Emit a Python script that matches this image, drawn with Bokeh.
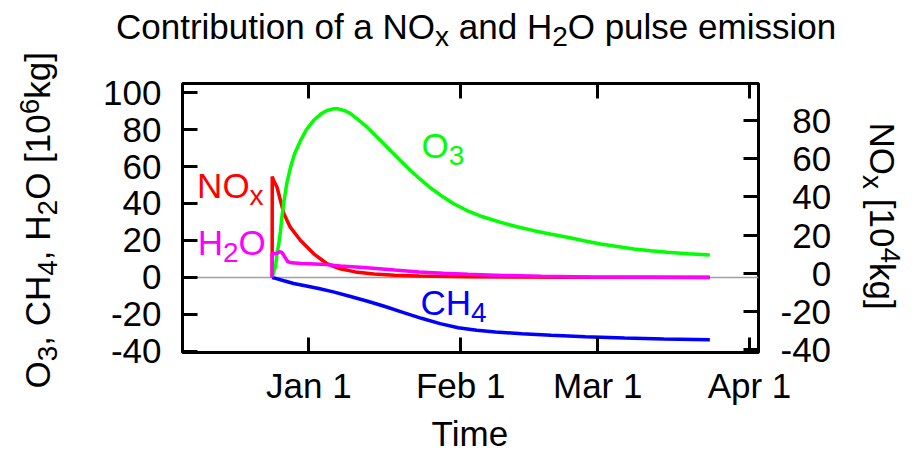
import math
import pandas as pd
from bokeh.plotting import figure
from bokeh.layouts import row, column
from bokeh.models import Range1d, LinearAxis, DatetimeAxis, FixedTicker, Label, Span
from bokeh.embed import file_html
from bokeh.resources import INLINE

# ---------------------------------------------------------------- data
pulse_time = pd.Timestamp("2006-12-24 12:00")   # time of the pulse emission

# O3 response [10^6 kg], days after the pulse
o3_day = [0, 0.3, 0.7, 1.0, 1.35, 1.7, 2.0, 2.4, 3.0, 3.7, 4.6, 5.8, 7.0, 8.5, 10.0,
          11.2, 12.5, 13.5, 15.0, 16.0, 17.5, 19.4, 21.0, 22.8, 24.5, 26.2, 28.2,
          30.3, 32.3, 34.4, 37.0, 39.8, 43.0, 46.7, 50.0, 53.5, 57.0, 60.3, 63.7,
          67.1, 70.5, 73.9, 77.3, 80.7, 85.0, 89.4]
o3_val = [0, 3, 6, 13, 18, 25, 33, 41, 51, 59, 67, 74, 80, 85, 88.5,
          90.3, 91.2, 91.2, 90.0, 88.6, 85.5, 81.3, 77.0, 72.3, 67.7, 63.3, 58.0,
          53.0, 48.5, 44.5, 40.0, 36.2, 32.8, 29.8, 27.4, 25.3, 23.4, 21.7, 19.8,
          18.1, 16.7, 15.4, 14.4, 13.6, 12.8, 12.1]

# NOx burden
nox_day = [0, 0.02, 0.3, 1.0, 1.7, 2.4, 3.7, 5.8, 8.5, 11.2, 13.9, 17.0, 20.8,
           25.0, 30.0, 40.0, 50.0, 60.0, 75.0, 89.4]
nox_val = [0, 54.6, 52.4, 48.8, 41.6, 34.4, 27.2, 20.0, 12.8, 7.4, 4.7, 3.0, 1.9,
           1.2, 0.8, 0.4, 0.2, 0.1, 0.05, 0.0]

# H2O [10^6 kg]
h2o_day = [0, 0.02, 1.0, 1.5, 2.0, 2.6, 3.2, 4.0, 6.0, 10.0, 14.0, 18.7, 25.0,
           30.0, 35.0, 40.0, 47.0, 55.0, 65.0, 75.0, 89.4]
h2o_val = [0, 13.0, 13.0, 14.0, 13.5, 11.0, 8.5, 7.9, 7.6, 7.2, 6.2, 5.4, 4.0,
           3.0, 2.3, 1.7, 1.1, 0.6, 0.3, 0.15, 0.05]

# CH4 [10^6 kg]
ch4_day = [0, 0.7, 2.4, 4.4, 7.0, 9.5, 12.5, 16.0, 19.5, 22.9, 26.7, 30.5, 34.3,
           38.0, 41.8, 45.6, 51.0, 57.0, 64.0, 72.0, 80.0, 89.4]
ch4_val = [0, -0.5, -1.8, -3.3, -4.6, -6.0, -7.8, -10.3, -12.9, -15.6, -18.9, -22.1,
           -25.0, -27.2, -28.6, -29.5, -30.5, -31.3, -32.1, -32.8, -33.3, -33.7]

tick_dates = ["2007-01-01", "2007-02-01", "2007-03-01", "2007-04-01"]
tick_labels = ["Jan 1", "Feb 1", "Mar 1", "Apr 1"]
left_ticks = [-40, -20, 0, 20, 40, 60, 80, 100]
right_ticks = [-40, -20, 0, 20, 40, 60, 80]
left_lim = (-40.6, 104.9)
right_lim = (-41.5, 99.4)

# ---------------------------------------------------------------- layout
W, H = 912, 455
LEFT_W = 75                 # strip holding the left axis title
RIGHT_W = 62                # strip holding the right axis title
TITLE_H = 73                # strip holding the title
TIME_H = 45                 # strip holding "Time"
FL, FR, FT, FB = 182, 758, 83, 352          # plot frame on the page
MID_W = W - LEFT_W - RIGHT_W
MAIN_H = H - TITLE_H - TIME_H
FONT = "Liberation Sans"
FS, SUB = 35, 28                            # text / sub-superscript sizes
DROP, RISE = 7, 11
BASE_FIX = 0.37                             # alphabetic baseline correction (em)


def when(days):
    return [pulse_time + pd.Timedelta(days=d) for d in days]


def ms(ts):
    return int(pd.Timestamp(ts).value // 10**6)


def strip(w, h):
    q = figure(width=w, height=h, x_range=Range1d(0, 1), y_range=Range1d(0, 1),
               x_axis_type=None, y_axis_type=None, min_border=0,
               toolbar_location=None, output_backend="svg")
    q.outline_line_color = None
    q.background_fill_color = "white"
    q.border_fill_color = "white"
    return q


tick_ms = [ms(t) for t in tick_dates]
x_start = pd.Timestamp("2007-01-01") - pd.Timedelta(days=25.81)
x_end = pd.Timestamp("2007-04-01") + pd.Timedelta(days=1.84)

p = figure(width=MID_W, height=MAIN_H, x_axis_type="datetime",
           x_range=Range1d(x_start, x_end), y_range=Range1d(*left_lim),
           output_backend="svg", toolbar_location=None,
           min_border_left=FL - LEFT_W, min_border_right=W - RIGHT_W - FR,
           min_border_top=FT - TITLE_H, min_border_bottom=H - TIME_H - FB)
p.extra_y_ranges = {"nox": Range1d(*right_lim)}
p.grid.visible = False
p.outline_line_color = "black"
p.outline_line_width = 3
p.background_fill_color = "white"
p.border_fill_color = "white"


def style_axis(ax, show_labels=True):
    ax.axis_line_color = None
    ax.major_tick_in = 15
    ax.major_tick_out = 0
    ax.major_tick_line_width = 3
    ax.major_tick_line_color = "black"
    ax.minor_tick_line_color = None
    ax.major_label_text_font = FONT
    if show_labels:
        ax.major_label_text_font_size = f"{FS}px"
        ax.major_label_text_color = "black"
    else:
        ax.major_label_text_font_size = "0px"
        ax.major_label_text_color = None
        ax.major_label_standoff = 0


bottom = p.xaxis[0]
bottom.ticker = FixedTicker(ticks=tick_ms)
bottom.major_label_overrides = dict(zip(tick_ms, tick_labels))
style_axis(bottom)
bottom.major_label_standoff = 13

left = p.yaxis[0]
left.ticker = FixedTicker(ticks=left_ticks)
left.major_label_overrides = {v: str(v) for v in left_ticks}
style_axis(left)
left.major_label_standoff = 21

top = DatetimeAxis(ticker=FixedTicker(ticks=tick_ms))
style_axis(top, show_labels=False)
p.add_layout(top, "above")


def y2_label(v):
    # pad with a 1/3-em space (width of "-") and figure spaces so the
    # left-anchored labels line up on their right edge
    s = str(v)
    pad = 3 - len(s)
    if v >= 0:
        return "\u2004" + "\u2007" * (pad - 1) + s if pad > 0 else s
    return s


right = LinearAxis(y_range_name="nox", ticker=FixedTicker(ticks=right_ticks))
style_axis(right)
right.major_label_overrides = {v: y2_label(v) for v in right_ticks}
right.major_label_standoff = 22
p.add_layout(right, "right")

p.add_layout(Span(location=0, dimension="width", line_color="#a0a0a0",
                  line_width=1.5, level="underlay"))

# ---------------------------------------------------------------- curves
p.line(when(nox_day), nox_val, line_color="#ff0000", line_width=3.5)
p.line(when(o3_day), o3_val, line_color="#00ff00", line_width=3.5)
p.line(when(ch4_day), ch4_val, line_color="#0000ff", line_width=3.5)
p.line(when(h2o_day), h2o_val, line_color="#ff00ff", line_width=3.5)

# ---------------------------------------------------------------- text strips
title_strip = strip(MID_W, TITLE_H)
time_strip = strip(MID_W, TIME_H)
left_strip = strip(LEFT_W, H)
right_strip = strip(RIGHT_W, H)

ADV = {"C": 722, "o": 556, "n": 556, "t": 278, "r": 333, "i": 222, "b": 556,
       "u": 556, " ": 278, "f": 278, "a": 556, "N": 722, "O": 778, "d": 556,
       "H": 722, "p": 556, "l": 222, "s": 500, "e": 556, "m": 833, ",": 278,
       "[": 278, "]": 278, "k": 500, "g": 556, "x": 500, "T": 611}


def adv(s, size):
    return sum(ADV.get(c, 556) for c in s) / 1000 * size


def rich(target, ox, obottom, pieces, cx, cy, color="black", angle=0.0):
    """Text runs with sub/superscripts from page point (cx, cy) on the baseline."""
    dx, dy = math.cos(angle), -math.sin(angle)      # writing direction
    ux, uy = -math.sin(angle), -math.cos(angle)     # 'up' direction
    pos = 0.0
    for text, kind in pieces:
        size = FS if kind == "n" else SUB
        shift = 0 if kind == "n" else (-DROP if kind == "sub" else RISE)
        shift += BASE_FIX * size
        lead = len(text) - len(text.lstrip(" "))
        pos += adv(" " * lead, size)
        body = text.strip(" ")
        x = cx + dx * pos + ux * shift
        y = cy + dy * pos + uy * shift
        target.add_layout(Label(x=x - ox, y=obottom - y, x_units="screen", y_units="screen",
                                text=body, angle=angle, text_align="left",
                                text_baseline="alphabetic", text_font=FONT,
                                text_font_size=f"{size}px", text_color=color))
        pos += adv(body, size)


# title
rich(title_strip, LEFT_W, TITLE_H,
     [("Contribution of a NO", "n"), ("x", "sub"), (" and H", "n"), ("2", "sub"),
      ("O pulse emission", "n")], 115.5, 39)

# x axis title
rich(time_strip, LEFT_W, H, [("Time", "n")], (FL + FR) / 2 - adv("Time", FS) / 2, 446)

# y axis titles
rich(left_strip, 0, H,
     [("O", "n"), ("3", "sub"), (", CH", "n"), ("4", "sub"), (", H", "n"), ("2", "sub"),
      ("O [10", "n"), ("6", "sup"), ("kg]", "n")], 50, 388, angle=math.pi / 2)
rich(right_strip, W - RIGHT_W, H,
     [("NO", "n"), ("x", "sub"), (" [10", "n"), ("4", "sup"), ("kg]", "n")],
     869, 122, angle=-math.pi / 2)

# curve labels
rich(p, FL, FB, [("O", "n"), ("3", "sub")], 421, 158, color="#00ff00")
rich(p, FL, FB, [("NO", "n"), ("x", "sub")], 196.6, 198, color="#ff0000")
rich(p, FL, FB, [("H", "n"), ("2", "sub"), ("O", "n")], 197.2, 255, color="#ff00ff")
rich(p, FL, FB, [("CH", "n"), ("4", "sub")], 420, 315, color="#0000ff")

page = row(left_strip,
           column(title_strip, row(p), time_strip),
           right_strip)

open("out.html", "w").write(file_html(page, INLINE))
